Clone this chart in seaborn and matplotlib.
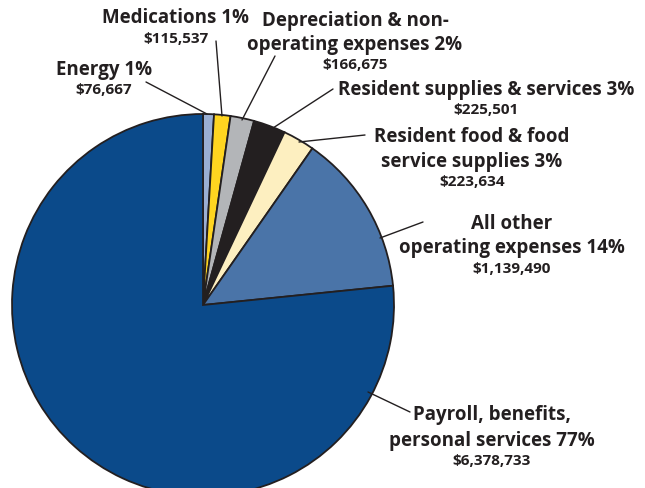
import matplotlib
matplotlib.use("Agg")
import matplotlib.pyplot as plt
import seaborn as sns

sns.set_theme(style="white")
plt.rcParams['font.family'] = ['Open Sans', 'DejaVu Sans']

categories = ["Energy", "Medications", "Depreciation & non-\noperating expenses",
              "Resident supplies & services", "Resident food & food\nservice supplies",
              "All other\noperating expenses", "Payroll, benefits,\npersonal services"]
values = [76667, 115537, 166675, 225501, 223634, 1139490, 6378733]
percents = ["1%", "1%", "2%", "3%", "3%", "14%", "77%"]
amounts = ["$76,667", "$115,537", "$166,675", "$225,501", "$223,634", "$1,139,490", "$6,378,733"]
colors = ["#9AAFD3", "#FFD520", "#B3B5B8", "#231F20", "#FDEFC0", "#4A74A8", "#0B4A8A"]

W, H = 645, 489
CX, CY, R = 203, 306, 191

fig = plt.figure(figsize=(W / 100, H / 100), dpi=100)
ax = fig.add_axes([0, 0, 1, 1])

wedges, _ = ax.pie(values, colors=colors, startangle=90, counterclock=False,
                   radius=1, center=(0, 0),
                   wedgeprops=dict(edgecolor="#231F20", linewidth=1.3))
ax.set_aspect("auto")
ax.set_xlim((0 - CX) / R, (W - CX) / R)
ax.set_ylim((CY - H) / R, (CY - 0) / R)
ax.axis("off")

def P(px, py):
    return (px - CX) / R, (CY - py) / R

tc = "#231F20"
# label layout: (center x, first line y, line gap, value y, line start, line end)
layout = [
    (104, 70, 24, 90, (146, 83), (207, 115)),
    (176, 18, 24, 39, (216, 42), (222, 117)),
    (355, 21, 24, 65, (275, 57), (242, 121)),
    (486, 90, 24, 110, (333, 90), (273, 129)),
    (472, 137, 25, 182, (365, 136), (299, 143)),
    (512, 224, 24, 269, (423, 223), (380, 239)),
    (492, 415, 26, 461, (410, 413), (368, 393)),
]
for cat, pct, amt, (lx, ly, gap, vy, s, e) in zip(categories, percents, amounts, layout):
    lines = (cat + " " + pct).split("\n")
    for i, ln in enumerate(lines):
        ax.text(*P(lx, ly + i * gap), ln, ha="center", va="center",
                fontsize=13.5, fontweight="bold", color=tc)
    ax.text(*P(lx, vy), amt, ha="center", va="center",
            fontsize=11, fontweight="bold", color=tc)
    x0, y0 = P(*s)
    x1, y1 = P(*e)
    ax.plot([x0, x1], [y0, y1], color=tc, linewidth=1.0)

fig.savefig("out.png", dpi=100)
